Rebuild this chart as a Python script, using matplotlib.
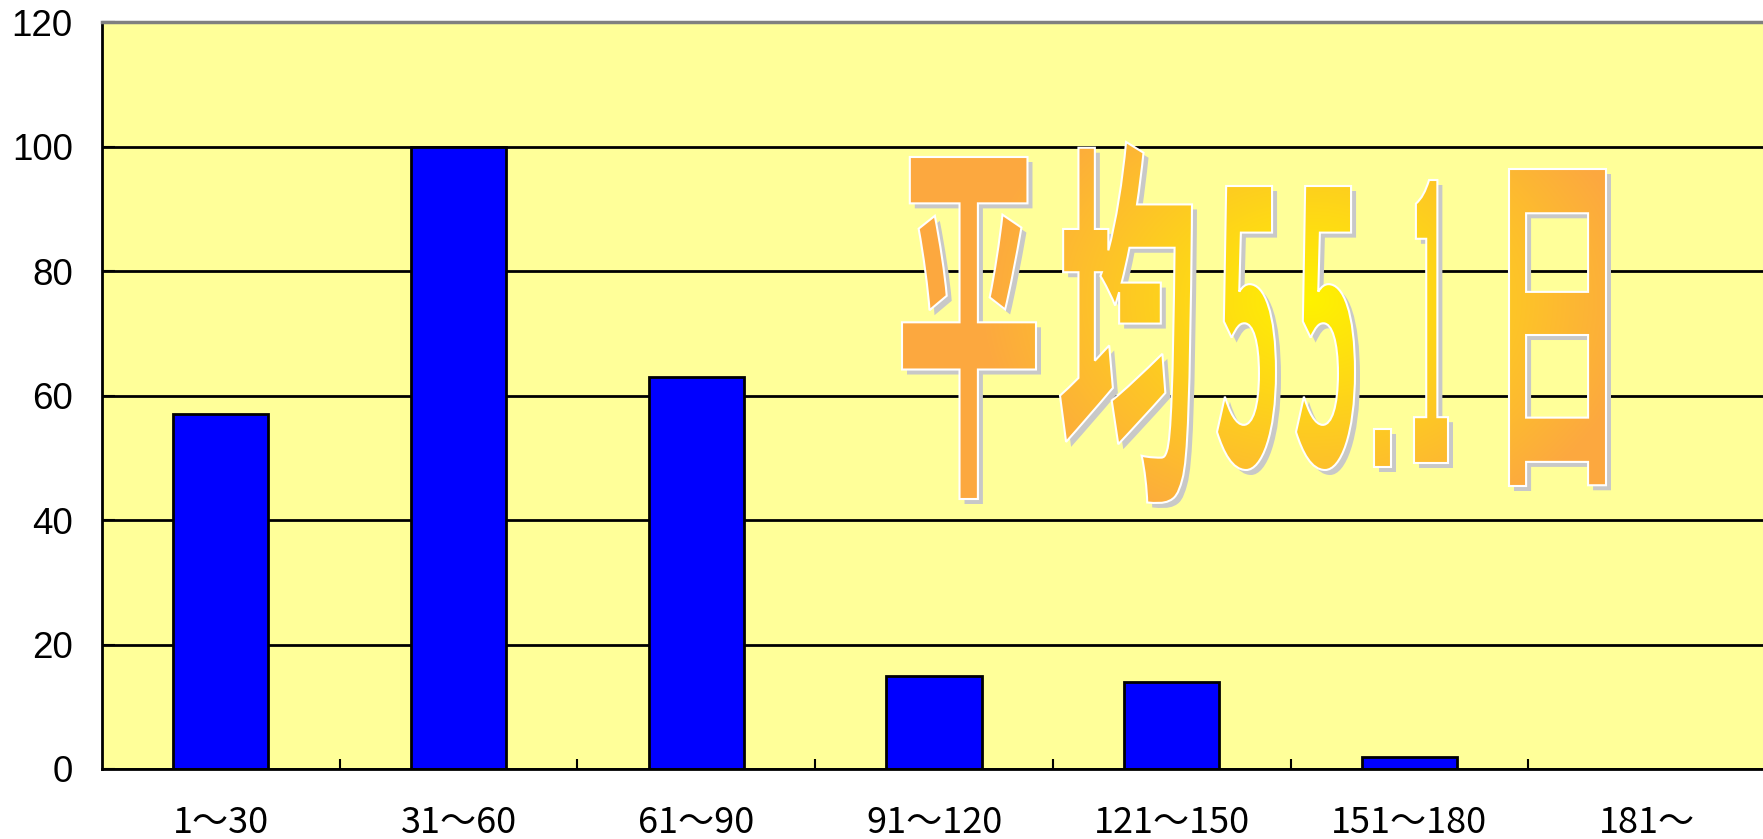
import numpy as np
import matplotlib
matplotlib.use('Agg')
import matplotlib.pyplot as plt
from matplotlib.textpath import TextPath
from matplotlib.font_manager import FontProperties
from matplotlib.patches import PathPatch
from matplotlib.path import Path
from matplotlib.transforms import Affine2D


categories = ["1～30", "31～60", "61～90", "91～120", "121～150", "151～180", "181～"]
counts = [57, 100, 63, 15, 14, 2, 0]
yticks = [0, 20, 40, 60, 80, 100, 120]
headline = "平均55.1日"

W, H = 1763, 839
fig = plt.figure(figsize=(W / 100, H / 100), dpi=100)

ax = fig.add_axes([102 / W, 1 - 769 / H, (1766 - 102) / W, (769 - 22.5) / H])
ax.set_facecolor('#FFFF99')
x = np.arange(len(categories))
ax.bar(x, counts, width=0.40, color='#0000FF', edgecolor='black', linewidth=2)
ax.set_xlim(-0.5, len(categories) - 0.5)
ax.set_ylim(0, 120)

ax.set_yticks(yticks)
ax.set_yticklabels([str(v) for v in yticks], fontsize=26.5, family='Liberation Sans')
ax.yaxis.grid(True, color='black', linewidth=2)
ax.set_axisbelow(True)

ax.set_xticks(np.arange(0.5, len(categories) - 1, 1))
ax.set_xticklabels([])
ax.set_xticks(x, minor=True)
ax.set_xticklabels(categories, minor=True, fontsize=26, family=['Noto Sans CJK JP', 'DejaVu Sans'])
ax.tick_params(axis='x', which='major', direction='in', length=7, width=1.5)
ax.tick_params(axis='x', which='minor', length=0, pad=26)
ax.tick_params(axis='y', direction='in', length=9, width=1.5, pad=21)

for s in ['left', 'bottom']:
    ax.spines[s].set_color('black')
    ax.spines[s].set_linewidth(2)
ax.spines['top'].set_color('#808080')
ax.spines['top'].set_linewidth(2.5)
ax.spines['right'].set_visible(False)

# big word-art style headline, one glyph per box (left, top, right, bottom in px)
boxes = [(902, 157, 1036, 499), (1060, 142, 1192, 503), (1217, 186, 1276, 470),
         (1296, 186, 1355, 470), (1374, 429, 1391, 467), (1414, 180, 1448, 463),
         (1509, 169, 1606, 486)]

ov = fig.add_axes([0, 0, 1, 1], zorder=5)
ov.patch.set_visible(False)
ov.axis('off')

fp = FontProperties(family='Noto Sans CJK JP', weight='bold')
fp_dot = FontProperties(family='DejaVu Sans', weight='bold')  # square full stop
paths = []
for ch, (l, t, r, b) in zip(headline, boxes):
    tp = TextPath((0, 0), ch, size=100, prop=fp_dot if ch == '.' else fp)
    ext = tp.get_extents()
    tr = Affine2D().translate(-ext.x0, -ext.y0).scale((r - l) / ext.width, -(b - t) / ext.height).translate(l, b)
    paths.append(tp.transformed(tr))
glyphs = Path.make_compound_path(*paths)

shadow = PathPatch(glyphs.transformed(Affine2D().translate(5, 5)), facecolor='#C8C8C8',
                   edgecolor='none', zorder=1)
ov.add_patch(shadow)

yy, xx = np.mgrid[0:H, 0:W]
d = np.sqrt(((xx - 1310) / 330.0) ** 2 + ((yy - 300) / 250.0) ** 2)
t = np.clip(d, 0, 1)[..., None]
yellow = np.array([1.0, 0.95, 0.0])
orange = np.array([0.99, 0.66, 0.25])
rgb = yellow * (1 - t) + orange * t
im = ov.imshow(rgb, extent=(0, W, H, 0), aspect='auto', zorder=2)

outline = PathPatch(glyphs, facecolor='none', edgecolor='white', linewidth=1.5, zorder=3)
ov.add_patch(outline)
im.set_clip_path(outline)

ov.set_xlim(0, W)
ov.set_ylim(H, 0)

fig.savefig('out.png', dpi=100)
